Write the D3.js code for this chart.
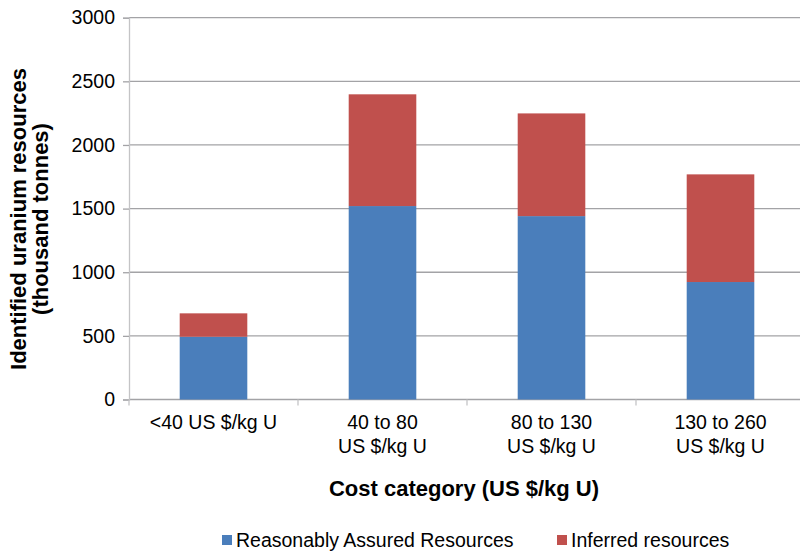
<!DOCTYPE html>
<html>
<head>
<meta charset="utf-8">
<script src="https://cdn.jsdelivr.net/npm/d3@7"></script>
<style>
  html, body { margin: 0; padding: 0; background: #ffffff; }
  svg { display: block; font-family: "Liberation Sans", Arial, sans-serif; }
</style>
</head>
<body>
<svg id="chart" width="800" height="551"></svg>
<script>
// Identified uranium resources by cost category (thousand tonnes U)
const categories = ["<40 US $/kg U", "40 to 80\nUS $/kg U", "80 to 130\nUS $/kg U", "130 to 260\nUS $/kg U"];
const seriesNames = ["Reasonably Assured Resources", "Inferred resources"];
const reasonablyAssured = [493, 1520, 1441, 923];
const inferred = [184, 878, 807, 846];
const yTicks = [0, 500, 1000, 1500, 2000, 2500, 3000];
const colors = ["#4a7ebb", "#c0504d"];

const svg = d3.select("#chart");
const margin = { left: 129, right: -5, top: 17.7, bottom: 151.5 };
const W = 800, H = 551;
const labelSize = 19.5;
const titleSize = 22;

const x = d3.scaleBand()
  .domain(categories)
  .range([margin.left, W - margin.right])
  .paddingInner(0.6)
  .paddingOuter(0.3);

const y = d3.scaleLinear()
  .domain([0, 3000])
  .range([H - margin.bottom, margin.top]);

const rows = categories.map((c, i) => ({ cat: c, rar: reasonablyAssured[i], inf: inferred[i] }));
const stacked = d3.stack().keys(["rar", "inf"])(rows);

// horizontal gridlines
svg.append("g")
  .selectAll("line")
  .data(yTicks)
  .join("line")
  .attr("x1", margin.left)
  .attr("x2", W)
  .attr("y1", d => y(d))
  .attr("y2", d => y(d))
  .attr("stroke", "#a3a3a6")
  .attr("stroke-width", 1.3);

// stacked bars
svg.append("g")
  .selectAll("g")
  .data(stacked)
  .join("g")
  .attr("fill", (d, i) => colors[i])
  .selectAll("rect")
  .data(d => d)
  .join("rect")
  .attr("x", d => x(d.data.cat))
  .attr("width", x.bandwidth())
  .attr("y", d => y(d[1]))
  .attr("height", d => y(d[0]) - y(d[1]));

// y axis
const yAxis = d3.axisLeft(y)
  .tickValues(yTicks)
  .tickSize(6)
  .tickPadding(8)
  .tickFormat(d3.format("d"));
const gy = svg.append("g")
  .attr("transform", `translate(${margin.left},0)`)
  .call(yAxis);
gy.select(".domain").attr("stroke", "#c4c4c6").attr("stroke-width", 1.3);
gy.selectAll(".tick line").attr("stroke", "#a3a3a6").attr("stroke-width", 1.3);
gy.selectAll(".tick text")
  .attr("font-size", labelSize)
  .attr("fill", "#000")
  .attr("font-family", "Liberation Sans, Arial, sans-serif");

// x axis: ticks at category boundaries
const step = x.step();
const boundaries = d3.range(categories.length + 1).map(i => margin.left + i * step);
svg.append("g")
  .selectAll("line")
  .data(boundaries)
  .join("line")
  .attr("x1", d => d).attr("x2", d => d)
  .attr("y1", y(0)).attr("y2", y(0) + 6)
  .attr("stroke", "#c4c4c6")
  .attr("stroke-width", 1.3);

// category labels
const labels = svg.append("g")
  .selectAll("text")
  .data(categories)
  .join("text")
  .attr("text-anchor", "middle")
  .attr("font-size", labelSize)
  .attr("fill", "#000");
labels.each(function (d) {
  const t = d3.select(this);
  const cx = x(d) + x.bandwidth() / 2;
  d.split("\n").forEach((line, k) => {
    t.append("tspan").attr("x", cx).attr("y", 429 + k * 24).text(line);
  });
});

// axis titles
svg.append("text")
  .attr("x", 464)
  .attr("y", 496)
  .attr("text-anchor", "middle")
  .attr("font-size", titleSize)
  .attr("font-weight", "bold")
  .attr("fill", "#000")
  .text("Cost category (US $/kg U)");

const yTitle = svg.append("text")
  .attr("transform", "translate(0,219) rotate(-90)")
  .attr("text-anchor", "middle")
  .attr("font-size", titleSize)
  .attr("font-weight", "bold")
  .attr("fill", "#000");
yTitle.append("tspan").attr("x", 0).attr("y", 26).text("Identified uranium resources");
yTitle.append("tspan").attr("x", 0).attr("y", 48).text("(thousand  tonnes)");

// legend
const legendX = [222, 557];
const legend = svg.append("g")
  .selectAll("g")
  .data(seriesNames)
  .join("g")
  .attr("transform", (d, i) => `translate(${legendX[i]},540)`);
legend.append("rect")
  .attr("x", 0).attr("y", -5)
  .attr("width", 10).attr("height", 10)
  .attr("fill", (d, i) => colors[i]);
legend.append("text")
  .attr("x", 14)
  .attr("y", 7)
  .attr("font-size", labelSize)
  .attr("fill", "#000")
  .text(d => d);
</script>
</body>
</html>
